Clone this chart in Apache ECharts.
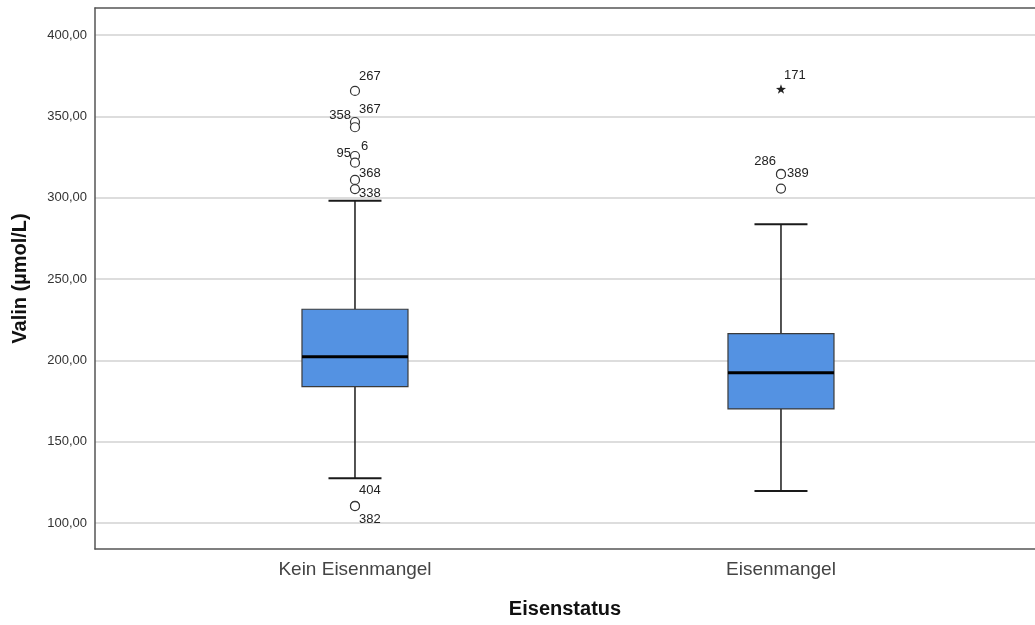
<!DOCTYPE html>
<html>
<head>
<meta charset="utf-8">
<title>Valin nach Eisenstatus</title>
<script src="https://cdn.jsdelivr.net/npm/echarts@6/dist/echarts.min.js"></script>
<style>
  html, body { margin: 0; padding: 0; background: #fff; }
  #chart { width: 1035px; height: 625px; }
</style>
</head>
<body>
<div id="chart"></div>
<script>
// Kategorien (x) und Kennwerte der Boxplots
const groups = ['Kein Eisenmangel', 'Eisenmangel'];
const whiskerLow = [127.5, 119.7];
const q1 = [183.8, 170.1];
const median = [202.2, 192.4];
const q3 = [231.4, 216.4];
const whiskerHigh = [298.1, 283.6];

// Ausreißer (Kreise)
const outlierGroup = [0, 0, 0, 0, 0, 0, 0, 0, 0, 1, 1, 1];
const outlierValue = [365.6, 346.5, 343.3, 325.6, 321.5, 310.9, 305.3, 110.6, 110.4, 314.6, 314.4, 305.6];
const outlierId = ['267', '367', '358', '6', '95', '368', '338', '404', '382', '389', '286', ''];

// Extremwerte (Stern)
const extremeGroup = [1];
const extremeValue = [366.8];
const extremeId = ['171'];

// y-Achse
const yTicks = [100, 150, 200, 250, 300, 350, 400];

// Lage der Fallnummern neben den Punkten (nur Darstellung)
const labelPlace = {
  '267': ['left', 4, -15],
  '367': ['left', 4, -13],
  '358': ['right', -4, -12],
  '6': ['left', 6, -10],
  '95': ['right', -4, -9],
  '368': ['left', 4, -7],
  '338': ['left', 4, 4],
  '404': ['left', 4, -15],
  '382': ['left', 4, 13],
  '389': ['left', 6, 0],
  '286': ['right', -5, -13],
  '171': ['left', 3, -14]
};

const FONT = '"Liberation Sans", Arial, sans-serif';
const STAR = 'path://M0,-10 L2.35,-3.24 L9.51,-3.09 L3.8,1.24 L5.88,8.09 L0,4 L-5.88,8.09 L-3.8,1.24 L-9.51,-3.09 L-2.35,-3.24 Z';
const X_MIN = -0.6103, X_MAX = 1.5963;

function pointData(grp, vals, ids) {
  return vals.map(function (v, i) {
    const id = ids[i];
    const p = labelPlace[id];
    const item = { value: [grp[i], v] };
    if (id && p) {
      item.label = {
        show: true,
        formatter: id,
        position: 'inside',
        align: p[0],
        verticalAlign: 'middle',
        offset: [p[1], p[2]]
      };
    }
    return item;
  });
}

const boxData = groups.map(function (g, i) {
  return [i, whiskerLow[i], q1[i], median[i], q3[i], whiskerHigh[i]];
});

const frameLine = { show: true, onZero: false, lineStyle: { color: '#555', width: 1.5 } };

const chart = echarts.init(document.getElementById('chart'));

chart.setOption({
  backgroundColor: '#ffffff',
  animation: false,
  textStyle: { fontFamily: FONT },
  grid: { left: 95, right: 0, top: 8, bottom: 76 },
  xAxis: [
    {
      type: 'value',
      min: X_MIN,
      max: X_MAX,
      position: 'bottom',
      name: 'Eisenstatus',
      nameLocation: 'middle',
      nameGap: 50,
      nameTextStyle: { fontFamily: FONT, fontSize: 20, fontWeight: 'bold', color: '#111' },
      axisLine: frameLine,
      axisTick: { show: false, customValues: [0, 1] },
      splitLine: { show: false },
      axisLabel: {
        customValues: [0, 1],
        margin: 11,
        fontSize: 19,
        color: '#444',
        fontFamily: FONT,
        formatter: function (v) { return groups[Math.round(v)] || ''; }
      }
    },
    {
      type: 'value',
      min: X_MIN,
      max: X_MAX,
      position: 'top',
      axisLine: frameLine,
      axisTick: { show: false },
      axisLabel: { show: false },
      splitLine: { show: false }
    }
  ],
  yAxis: {
    type: 'value',
    min: 84,
    max: 416.6,
    position: 'left',
    name: 'Valin (µmol/L)',
    nameLocation: 'middle',
    nameRotate: 90,
    nameGap: 65,
    nameTextStyle: { fontFamily: FONT, fontSize: 20, fontWeight: 'bold', color: '#111' },
    axisLine: frameLine,
    axisTick: { show: false, customValues: yTicks },
    splitLine: { show: true, lineStyle: { color: '#d2d2d2', width: 1.5 } },
    axisLabel: {
      customValues: yTicks,
      margin: 8,
      fontSize: 13,
      color: '#333',
      fontFamily: FONT,
      formatter: function (v) { return v.toFixed(2).replace('.', ','); }
    }
  },
  series: [
    {
      type: 'custom',
      encode: { x: 0, y: [1, 2, 3, 4, 5] },
      data: boxData,
      z: 2,
      renderItem: function (params, api) {
        const x = api.value(0);
        const pLo = api.coord([x, api.value(1)]);
        const pQ1 = api.coord([x, api.value(2)]);
        const pMed = api.coord([x, api.value(3)]);
        const pQ3 = api.coord([x, api.value(4)]);
        const pHi = api.coord([x, api.value(5)]);
        const cx = pMed[0];
        const bw = 106, cw = 53;
        const wStyle = { stroke: '#1a1a1a', lineWidth: 1.5 };
        return {
          type: 'group',
          children: [
            { type: 'line', shape: { x1: cx, y1: pHi[1], x2: cx, y2: pQ3[1] }, style: wStyle },
            { type: 'line', shape: { x1: cx, y1: pQ1[1], x2: cx, y2: pLo[1] }, style: wStyle },
            { type: 'line', shape: { x1: cx - cw / 2, y1: pHi[1], x2: cx + cw / 2, y2: pHi[1] }, style: { stroke: '#1a1a1a', lineWidth: 2 } },
            { type: 'line', shape: { x1: cx - cw / 2, y1: pLo[1], x2: cx + cw / 2, y2: pLo[1] }, style: { stroke: '#1a1a1a', lineWidth: 2 } },
            {
              type: 'rect',
              shape: { x: cx - bw / 2, y: pQ3[1], width: bw, height: pQ1[1] - pQ3[1] },
              style: { fill: '#5492e2', stroke: '#3a3a3a', lineWidth: 1.2 }
            },
            { type: 'line', shape: { x1: cx - bw / 2, y1: pMed[1], x2: cx + bw / 2, y2: pMed[1] }, style: { stroke: '#000', lineWidth: 3 } }
          ]
        };
      }
    },
    {
      type: 'scatter',
      symbol: 'circle',
      symbolSize: 9,
      z: 3,
      itemStyle: { color: '#ffffff', borderColor: '#333', borderWidth: 1.2, opacity: 1 },
      label: { color: '#222', fontSize: 13, fontFamily: FONT },
      data: pointData(outlierGroup, outlierValue, outlierId)
    },
    {
      type: 'scatter',
      symbol: STAR,
      symbolSize: 10,
      symbolKeepAspect: true,
      z: 3,
      itemStyle: { color: '#222', opacity: 1 },
      label: { color: '#222', fontSize: 13, fontFamily: FONT },
      data: pointData(extremeGroup, extremeValue, extremeId)
    }
  ]
});
</script>
</body>
</html>
